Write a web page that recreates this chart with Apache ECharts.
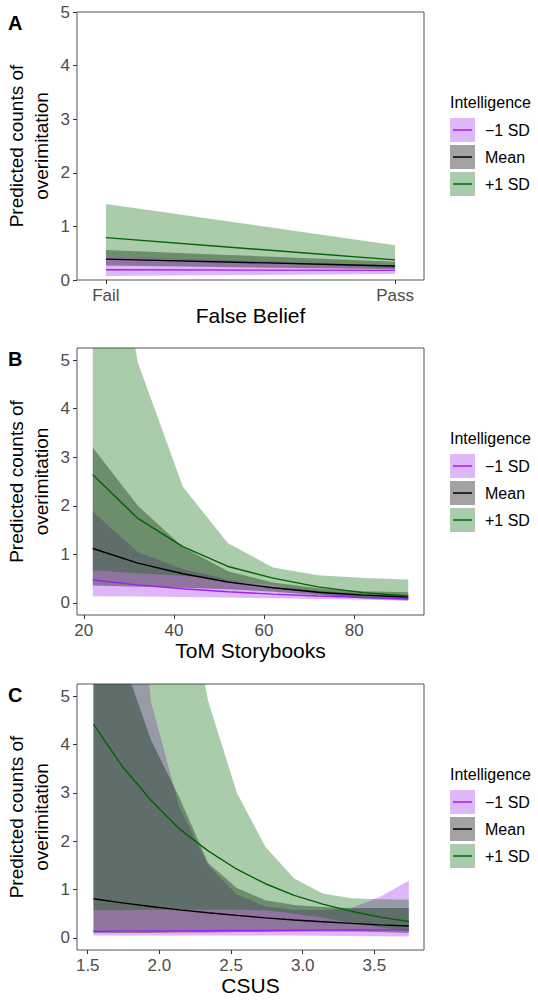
<!DOCTYPE html>
<html>
<head>
<meta charset="utf-8">
<script src="https://cdn.jsdelivr.net/npm/echarts@6/dist/echarts.min.js"></script>
<style>
  html, body { margin: 0; padding: 0; background: #fff; }
  #chart { width: 538px; height: 1000px; }
</style>
</head>
<body>
<div id="chart"></div>
<script>
// ---------------- DATA ----------------
const groups = ['−1 SD', 'Mean', '+1 SD'];
const yTicks = [0, 1, 2, 3, 4, 5];

// Panel A: False Belief
const aCategories = ['Fail', 'Pass'];
const aX = [0, 1];
const aLowFit = [0.19, 0.18];
const aLowUpper = [0.44, 0.27];
const aLowLower = [0.075, 0.11];
const aMeanFit = [0.39, 0.26];
const aMeanUpper = [0.56, 0.34];
const aMeanLower = [0.27, 0.2];
const aHighFit = [0.79, 0.375];
const aHighUpper = [1.42, 0.65];
const aHighLower = [0.44, 0.22];

// Panel B: ToM Storybooks
const bTicks = [20, 40, 60, 80];
const bX = [22, 32, 42, 52, 62, 72, 82, 92];
const bLowFit = [0.47, 0.37, 0.29, 0.23, 0.18, 0.14, 0.11, 0.085];
const bLowUpper = [1.88, 1.05, 0.7, 0.48, 0.34, 0.25, 0.19, 0.15];
const bLowLower = [0.135, 0.13, 0.12, 0.11, 0.095, 0.08, 0.065, 0.05];
const bMeanFit = [1.12, 0.82, 0.6, 0.43, 0.31, 0.22, 0.16, 0.12];
const bMeanUpper = [3.2, 2.0, 1.15, 0.65, 0.42, 0.3, 0.24, 0.22];
const bMeanLower = [0.36, 0.33, 0.31, 0.28, 0.23, 0.16, 0.107, 0.065];
const bHighFit = [2.64, 1.74, 1.16, 0.75, 0.51, 0.33, 0.21, 0.14];
const bHighUpper = [10.4, 4.95, 2.39, 1.23, 0.73, 0.57, 0.51, 0.48];
const bHighLower = [0.67, 0.61, 0.56, 0.46, 0.36, 0.19, 0.086, 0.041];

// Panel C: CSUS
const cTicks = [1.5, 2.0, 2.5, 3.0, 3.5];
const cX = [1.54, 1.74, 1.94, 2.14, 2.34, 2.54, 2.74, 2.94, 3.14, 3.34, 3.54, 3.74];
const cLowFit = [0.137, 0.14, 0.143, 0.146, 0.149, 0.152, 0.155, 0.158, 0.161, 0.164, 0.167, 0.17];
const cLowUpper = [60, 12, 4.9, 2.7, 1.5, 0.9, 0.65, 0.58, 0.57, 0.62, 0.85, 1.18];
const cLowLower = [0.05, 0.05, 0.05, 0.05, 0.05, 0.05, 0.05, 0.05, 0.045, 0.04, 0.035, 0.03];
const cMeanFit = [0.81, 0.725, 0.65, 0.58, 0.52, 0.465, 0.415, 0.37, 0.335, 0.30, 0.27, 0.245];
const cMeanUpper = [20, 5.8, 4.1, 2.9, 1.55, 1.03, 0.78, 0.68, 0.64, 0.62, 0.62, 0.62];
const cMeanLower = [0.1, 0.1, 0.1, 0.11, 0.11, 0.12, 0.12, 0.13, 0.13, 0.13, 0.12, 0.1];
const cHighFit = [4.42, 3.55, 2.85, 2.25, 1.8, 1.42, 1.12, 0.88, 0.7, 0.55, 0.43, 0.34];
const cHighUpper = [40, 22, 13, 8, 4.9, 3.0, 1.88, 1.23, 0.92, 0.82, 0.80, 0.79];
const cHighLower = [0.57, 0.57, 0.58, 0.58, 0.58, 0.58, 0.57, 0.5, 0.42, 0.3, 0.22, 0.14];

// ---------------- STYLE ----------------
const FONT = "'Liberation Sans', Arial, Helvetica, sans-serif";
const lineColors = ['#A020F0', '#000000', '#006400'];
const fillColors = ['rgba(160,32,240,0.33)', 'rgba(0,0,0,0.36)', 'rgba(0,100,0,0.33)'];
const AXIS_GREY = '#4d4d4d';

const panels = [
  { letter: 'A', top: 12, height: 268, xTitle: 'False Belief',
    x: aX, fits: [aLowFit, aMeanFit, aHighFit], uppers: [aLowUpper, aMeanUpper, aHighUpper], lowers: [aLowLower, aMeanLower, aHighLower],
    xMin: -0.1, xMax: 1.1, xTicks: aX, xFmt: v => aCategories[Math.round(v)],
    yMin: 0, yMax: 5 },
  { letter: 'B', top: 348, height: 267, xTitle: 'ToM Storybooks',
    x: bX, fits: [bLowFit, bMeanFit, bHighFit], uppers: [bLowUpper, bMeanUpper, bHighUpper], lowers: [bLowLower, bMeanLower, bHighLower],
    xMin: 18.5, xMax: 95.5, xTicks: bTicks, xFmt: v => String(v),
    yMin: -0.25, yMax: 5.25 },
  { letter: 'C', top: 684, height: 266, xTitle: 'CSUS',
    x: cX, fits: [cLowFit, cMeanFit, cHighFit], uppers: [cLowUpper, cMeanUpper, cHighUpper], lowers: [cLowLower, cMeanLower, cHighLower],
    xMin: 1.425, xMax: 3.846, xTicks: cTicks, xFmt: v => Number(v).toFixed(1),
    yMin: -0.25, yMax: 5.25 }
];

const GRID_LEFT = 77, GRID_WIDTH = 347;

const grid = [], xAxis = [], yAxis = [], series = [], graphic = [];

function makeBandRenderer(xs, lows, ups, fill) {
  return function (params, api) {
    if (params.dataIndex !== 0) return null;
    const pts = [];
    for (let j = 0; j < xs.length; j++) pts.push(api.coord([xs[j], lows[j]]));
    for (let j = xs.length - 1; j >= 0; j--) pts.push(api.coord([xs[j], ups[j]]));
    const cs = params.coordSys;
    return {
      type: 'polygon',
      shape: { points: pts },
      style: { fill: fill, stroke: null },
      clipPath: { type: 'rect', shape: { x: cs.x, y: cs.y, width: cs.width, height: cs.height } }
    };
  };
}

panels.forEach((p, i) => {
  grid.push({
    left: GRID_LEFT, top: p.top, width: GRID_WIDTH, height: p.height,
    show: true, borderColor: '#555555', borderWidth: 1, backgroundColor: 'transparent',
    containLabel: false, outerBoundsMode: 'none'
  });
  xAxis.push({
    type: 'value', gridIndex: i, min: p.xMin, max: p.xMax,
    name: p.xTitle, nameLocation: 'middle', nameGap: 25,
    nameTextStyle: { fontSize: 21, color: '#000', fontFamily: FONT },
    nameMoveOverlap: false,
    axisLine: { show: false, onZero: false },
    axisTick: { show: true, length: 4, lineStyle: { color: '#333', width: 1 }, customValues: p.xTicks },
    axisLabel: { show: true, fontSize: 17, color: AXIS_GREY, fontFamily: FONT, margin: 7,
                 customValues: p.xTicks, formatter: p.xFmt, showMinLabel: true, showMaxLabel: true },
    splitLine: { show: false }
  });
  yAxis.push({
    type: 'value', gridIndex: i, min: p.yMin, max: p.yMax,
    name: 'Predicted counts of\noverimitation', nameLocation: 'middle', nameGap: 23, nameRotate: 90,
    nameTextStyle: { fontSize: 19, lineHeight: 25, color: '#000', fontFamily: FONT },
    nameMoveOverlap: false,
    axisLine: { show: false, onZero: false },
    axisTick: { show: true, length: 4, lineStyle: { color: '#333', width: 1 }, customValues: yTicks },
    axisLabel: { show: true, fontSize: 17, color: AXIS_GREY, fontFamily: FONT, margin: 7,
                 customValues: yTicks, showMinLabel: true, showMaxLabel: true },
    splitLine: { show: false }
  });

  // ribbons
  groups.forEach((g, k) => {
    series.push({
      type: 'custom', name: g + ' band', xAxisIndex: i, yAxisIndex: i,
      data: p.x.map((xv, j) => [xv, p.lowers[k][j], p.uppers[k][j]]),
      encode: { x: 0, y: [1, 2] },
      renderItem: makeBandRenderer(p.x, p.lowers[k], p.uppers[k], fillColors[k]),
      silent: true, z: 1, clip: true
    });
  });
  // fitted lines
  groups.forEach((g, k) => {
    series.push({
      type: 'line', name: g, xAxisIndex: i, yAxisIndex: i,
      data: p.x.map((xv, j) => [xv, p.fits[k][j]]),
      symbol: 'none', lineStyle: { color: lineColors[k], width: 1.4 }, silent: true, z: 3, clip: true
    });
  });

  // panel letter
  graphic.push({
    type: 'text', left: 8, top: p.top + 1,
    style: { text: p.letter, fontSize: 20, fontWeight: 'bold', fontFamily: FONT, fill: '#000' }
  });

  // legend
  const LX = 450, SW = 25, SH = 24, PITCH = 27;
  graphic.push({
    type: 'text', x: LX, y: p.top + 90.5,
    style: { text: 'Intelligence', fontSize: 16, fontFamily: FONT, fill: '#000', verticalAlign: 'middle' }
  });
  groups.forEach((g, k) => {
    const t = p.top + 106 + k * PITCH;
    graphic.push({
      type: 'rect', shape: { x: LX, y: t, width: SW, height: SH },
      style: { fill: fillColors[k] }
    });
    graphic.push({
      type: 'line', shape: { x1: LX + 3, y1: t + SH / 2, x2: LX + SW - 3, y2: t + SH / 2 },
      style: { stroke: lineColors[k], lineWidth: 1.5 }
    });
    graphic.push({
      type: 'text', x: LX + 35, y: t + SH / 2,
      style: { text: g, fontSize: 16, fontFamily: FONT, fill: '#000', verticalAlign: 'middle' }
    });
  });
});

const chart = echarts.init(document.getElementById('chart'), null, { renderer: 'svg' });
chart.setOption({
  animation: false,
  backgroundColor: '#ffffff',
  textStyle: { fontFamily: FONT },
  grid, xAxis, yAxis, series, graphic
});
</script>
</body>
</html>
